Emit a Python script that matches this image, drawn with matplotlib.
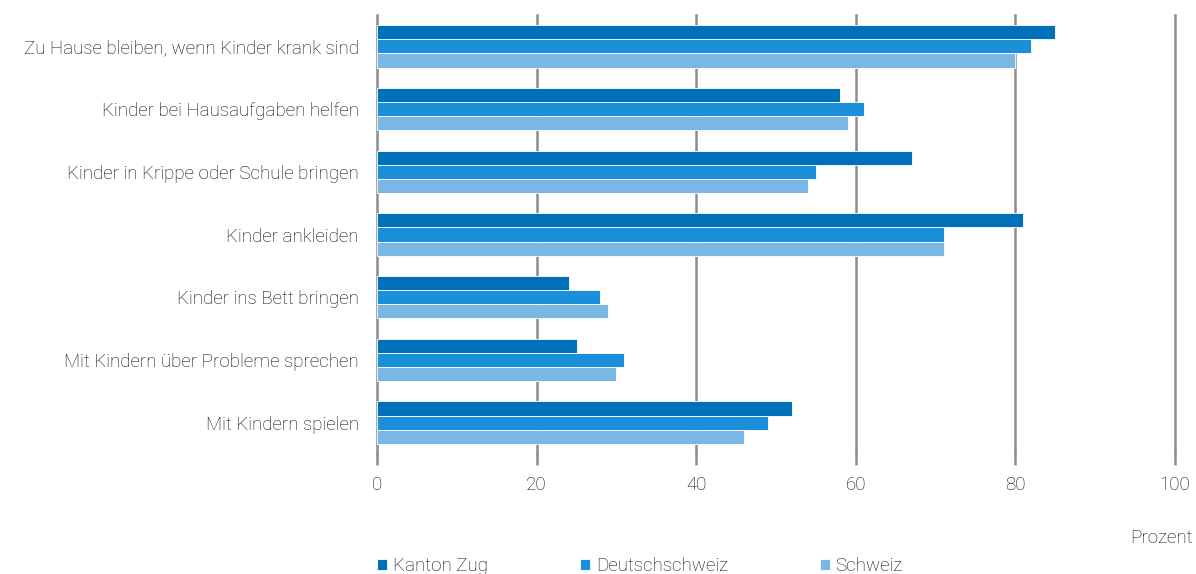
import matplotlib.pyplot as plt
import numpy as np

# Anteile in Prozent, je Tätigkeit
kategorien = ["Zu Hause bleiben, wenn Kinder krank sind",
              "Kinder bei Hausaufgaben helfen",
              "Kinder in Krippe oder Schule bringen",
              "Kinder ankleiden",
              "Kinder ins Bett bringen",
              "Mit Kindern über Probleme sprechen",
              "Mit Kindern spielen"]
kanton_zug = [85, 58, 67, 81, 24, 25, 52]
deutschschweiz = [82, 61, 55, 71, 28, 31, 49]
schweiz = [80, 59, 54, 71, 29, 30, 46]

serien = ["Kanton Zug", "Deutschschweiz", "Schweiz"]
farben = ["#0070bb", "#1b8fd9", "#7bb7e4"]

plt.rcParams['font.family'] = ['Roboto', 'DejaVu Sans']
plt.rcParams['font.weight'] = 'light'
fs = 13.5
txt = "#0a0a0a"

fig = plt.figure(figsize=(11.96, 5.74), dpi=100)
ax = fig.add_axes([377/1196, 1-454/574, 798/1196, 439/574])

y = np.arange(len(kategorien))
h = 0.225
for i, (werte, name, farbe) in enumerate(zip([kanton_zug, deutschschweiz, schweiz], serien, farben)):
    ax.barh(y + (i - 1) * h, werte, height=h, color=farbe, label=name,
            edgecolor="white", linewidth=0.6, zorder=3)

for xv in range(0, 101, 20):
    ax.axvline(xv, color="#8c8c8c", linewidth=1.8, zorder=2, clip_on=False)

ax.set_xlim(0, 100)
ax.set_ylim(len(kategorien) - 0.5, -0.5)
ax.set_yticks(y)
ax.set_yticklabels(kategorien, fontsize=fs, color=txt)
ax.set_xticks(range(0, 101, 20))
ax.tick_params(axis="x", length=8, width=1.8, color="#8c8c8c", labelsize=fs,
               labelcolor=txt, pad=8)
ax.tick_params(axis="y", length=0, pad=13)
for s in ax.spines.values():
    s.set_visible(False)

fig.text(1193/1196, 1-538/574, "Prozent", ha="right", va="center", fontsize=fs, color=txt)

fig.legend(loc="center left", bbox_to_anchor=(377/1196, 1-566/574), ncol=3, frameon=False,
           fontsize=fs, handlelength=0.55, handleheight=0.55, handletextpad=0.3,
           columnspacing=4.9, borderaxespad=0, borderpad=0, labelcolor=txt)

fig.savefig("out.png", dpi=100)
